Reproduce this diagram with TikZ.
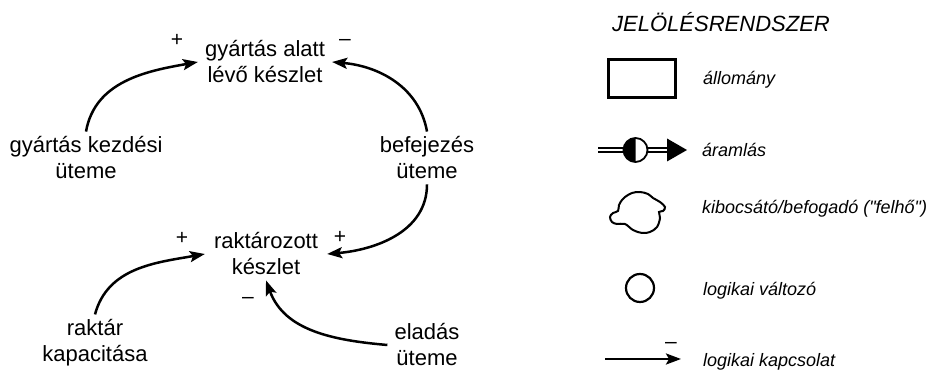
\documentclass[tikz,border=0pt]{standalone}
\usepackage{fontspec}
\setmainfont{Liberation Sans}[Ligatures=TeXOff]
\usetikzlibrary{arrows.meta}

\begin{document}
\begin{tikzpicture}[
		x=1pt, y=1pt,
		>={Stealth[length=15pt,width=11pt,inset=3pt]},
		link/.style={->, line width=2.5pt},
		var/.style={align=center, inner xsep=7pt, inner ysep=5pt, font=\fontsize{22}{26}\selectfont},
		sign/.style={inner sep=0pt, font=\fontsize{21}{21}\selectfont},
		legtext/.style={anchor=west, inner sep=0pt, font=\fontsize{18}{20}\selectfont\itshape},
		symbol/.style={draw, line width=2.2pt, inner sep=0pt}]

	\useasboundingbox (0,0) rectangle (932,371);

	% valtozok
	\node[var] (gyal) at (265,309) {gyártás alatt\\lévő készlet};
	\node[var] (gykezd) at (86,213) {gyártás kezdési\\üteme};
	\node[var] (befej) at (427,213) {befejezés\\üteme};
	\node[var, inner xsep=9pt] (rakt) at (266,117) {raktározott\\készlet};
	\node[var] (rkap) at (95,28) {raktár\\kapacitása};
	\node[var] (elad) at (427,26) {eladás\\üteme};

	% kapcsolatok
	\draw[link] (gykezd.north) to[out=80, in=190] (gyal.west);
	\draw[link] (befej.north) to[out=100, in=-5] (gyal.east);
	\draw[link] (befej.south) to[out=-90, in=5] (rakt.east);
	\draw[link] (rkap.north) to[out=75, in=190] (rakt.west);
	\draw[link] (elad.west) to[out=175, in=-70] (rakt.south);

	% elojelek
	\node[sign] (p1) at (177,331) {+};
	\node[sign] (m1) at (345,329) {–};
	\node[sign] (p2) at (182,133) {+};
	\node[sign] (p3) at (340,134) {+};
	\node[sign] (m2) at (248,71) {–};

	% jelolesrendszer
	\node[legtext, font=\fontsize{22}{24}\selectfont\itshape] (title) at (612,349) {JELÖLÉSRENDSZER};

	\node[symbol, line width=2.5pt, minimum width=67pt, minimum height=38pt] (stock) at (642,292.5) {};
	\node[legtext] (stocktxt) at (703,291) {állomány};

	\node[circle, minimum size=24pt, inner sep=0pt] (valve) at (635.5,221) {};
	\coordinate (flowin) at (598,221);
	\coordinate (flowout) at (668,221);
	\draw[double, double distance=2.6pt, line width=1.4pt] (flowin) -- (valve.west);
	\draw[double, double distance=2.6pt, line width=1.4pt] (valve.east) -- (flowout);
	\fill (valve.north) arc[start angle=90, end angle=270, radius=12pt] -- cycle;
	\draw[line width=1.8pt] (valve) circle[radius=12pt];
	\fill (667,232.5) -- (687,221) -- (667,209.5) -- cycle;
	\node[legtext] (flowtxt) at (702,221) {áramlás};

	\draw[line width=2pt] plot[smooth cycle, tension=0.6] coordinates {
		(625,174) (632,178) (640,179) (648,177) (653,173) (660,169) (665,164)
		(663,160) (659,159) (660,153) (657,144) (650,139) (642,138) (633,141)
		(625,147) (617,147) (612,149) (610,154) (613,158) (618,160) (619,166) (622,171)};
	\node[legtext] (cloudtxt) at (702,162) {kibocsátó/befogadó ("felhő")};

	\node[symbol, circle, minimum size=28pt] (aux) at (640,83) {};
	\node[legtext] (auxtxt) at (703,80) {logikai változó};

	\coordinate (la) at (605,12);
	\coordinate (lb) at (681,12);
	\draw[link] (la) -- (lb);
	\node[sign] (m3) at (671,26) {–};
	\node[legtext] (linktxt) at (703,9) {logikai kapcsolat};

\end{tikzpicture}
\end{document}
